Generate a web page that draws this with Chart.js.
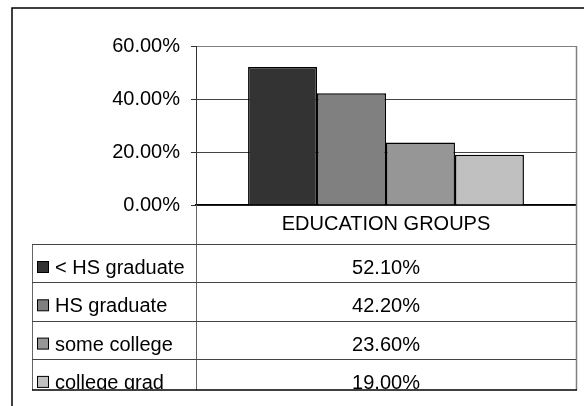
<!DOCTYPE html>
<html>
<head>
<meta charset="utf-8">
<script src="https://cdn.jsdelivr.net/npm/chart.js@4/dist/chart.umd.min.js"></script>
<style>
  html, body { margin: 0; padding: 0; background: #fff; }
  #wrap { width: 584px; height: 406px; }
</style>
</head>
<body>
<div id="wrap"><canvas id="eduChart" width="584" height="406"></canvas></div>
<script>
// Data
const categories = ['EDUCATION GROUPS'];
const seriesNames = ['< HS graduate', 'HS graduate', 'some college', 'college grad'];
const seriesValues = [52.1, 42.2, 23.6, 19.0];
const seriesColors = ['#333333', '#808080', '#969696', '#c0c0c0'];
const yTicks = [0, 20, 40, 60];

const FONT = "'Liberation Sans', Arial, sans-serif";

// Layout bits (Excel style data table under the plot)
const TABLE_LEFT = 32;
const ROW_H = 38.3;
const TABLE_BOTTOM = 390;

function fmtPct(v) {
    return v.toFixed(2) + '%';
}

const frameAndTable = {
    id: 'frameAndTable',
    afterDraw(chart) {
        const ctx = chart.ctx;
        const xs = chart.scales.x;
        const area = chart.chartArea;
        const top0 = xs.bottom;

        ctx.save();

        // outer chart frame
        ctx.strokeStyle = '#000';
        ctx.lineWidth = 1.5;
        ctx.strokeRect(12, 8, 700, 600);

        // plot / table right edge
        ctx.strokeStyle = '#808080';
        ctx.lineWidth = 1.5;
        ctx.beginPath();
        ctx.moveTo(xs.right + 0.5, area.top);
        ctx.lineTo(xs.right + 0.5, TABLE_BOTTOM);
        ctx.stroke();

        // divider between legend column and values
        ctx.strokeStyle = '#666';
        ctx.lineWidth = 1;
        ctx.beginPath();
        ctx.moveTo(xs.left + 0.5, area.bottom);
        ctx.lineTo(xs.left + 0.5, TABLE_BOTTOM);
        ctx.moveTo(TABLE_LEFT + 0.5, top0);
        ctx.lineTo(TABLE_LEFT + 0.5, TABLE_BOTTOM);
        ctx.stroke();

        // row lines
        ctx.strokeStyle = '#444';
        for (let i = 0; i < seriesNames.length; i++) {
            const y = Math.round(top0 + i * ROW_H) + 0.5;
            ctx.beginPath();
            ctx.moveTo(TABLE_LEFT, y);
            ctx.lineTo(xs.right, y);
            ctx.stroke();
        }
        ctx.strokeStyle = '#000';
        ctx.lineWidth = 1.5;
        ctx.beginPath();
        ctx.moveTo(TABLE_LEFT, TABLE_BOTTOM);
        ctx.lineTo(xs.right + 1, TABLE_BOTTOM);
        ctx.stroke();

        // rows text, clipped at bottom like the original
        ctx.beginPath();
        ctx.rect(0, 0, chart.width, TABLE_BOTTOM - 0.5);
        ctx.clip();
        ctx.font = '20px ' + FONT;
        ctx.fillStyle = '#000';
        ctx.textBaseline = 'alphabetic';
        const midX = (xs.left + xs.right) / 2;
        seriesNames.forEach((name, i) => {
            const base = top0 + i * ROW_H + 30;
            // key box
            ctx.fillStyle = seriesColors[i];
            ctx.fillRect(37.5, base - 12.5, 11, 11);
            ctx.strokeStyle = '#000';
            ctx.lineWidth = 1;
            ctx.strokeRect(37.5, base - 12.5, 11, 11);
            ctx.fillStyle = '#000';
            ctx.textAlign = 'left';
            ctx.fillText(name, 55, base);
            ctx.textAlign = 'center';
            ctx.fillText(fmtPct(seriesValues[i]), midX, base);
        });

        ctx.restore();
    }
};

const ctx = document.getElementById('eduChart').getContext('2d');
new Chart(ctx, {
    type: 'bar',
    data: {
        labels: categories,
        datasets: seriesNames.map((name, i) => ({
            label: name,
            data: [seriesValues[i]],
            backgroundColor: seriesColors[i],
            borderColor: '#000',
            borderWidth: 1.5,
            categoryPercentage: 0.726,
            barPercentage: 1
        }))
    },
    options: {
        responsive: false,
        animation: false,
        layout: { padding: { left: 0, top: 46, right: 8, bottom: 162 } },
        plugins: {
            legend: { display: false },
            tooltip: { enabled: false }
        },
        scales: {
            x: {
                grid: { display: false, drawTicks: false },
                border: { color: '#000', width: 1.5 },
                ticks: { color: '#000', font: { family: FONT, size: 20 }, padding: 7 },
                afterFit: s => { s.height = 39; }
            },
            y: {
                min: yTicks[0],
                max: yTicks[yTicks.length - 1],
                afterBuildTicks: s => { s.ticks = yTicks.map(v => ({ value: v })); },
                grid: {
                    color: c => c.tick && c.tick.value === 60 ? '#808080' : '#444',
                    tickColor: '#333',
                    tickLength: 5
                },
                border: { color: '#333', width: 1 },
                ticks: {
                    color: '#000',
                    font: { family: FONT, size: 20 },
                    padding: 11,
                    callback: v => fmtPct(v)
                },
                afterFit: s => { s.width = 196; }
            }
        }
    },
    plugins: [frameAndTable]
});
</script>
</body>
</html>
